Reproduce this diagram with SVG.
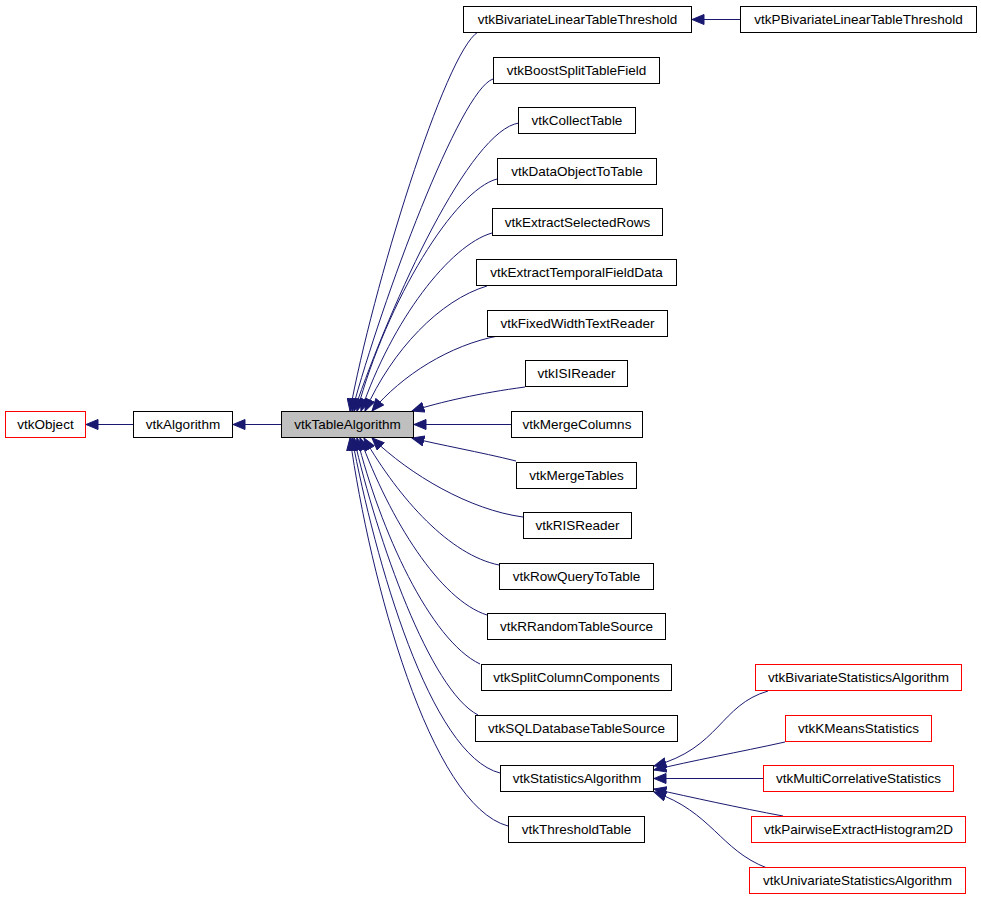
<svg xmlns="http://www.w3.org/2000/svg" width="981" height="899" viewBox="0 0 981 899">
<style>
.n rect{fill:#ffffff;stroke:#000000;stroke-width:1}
.n rect.red{stroke:#ff0000}
.n rect.grey{fill:#bfbfbf}
.n text{font-family:"Liberation Sans",Arial,sans-serif;font-size:13.5px;fill:#000000;text-anchor:middle}
#edges path{fill:none;stroke:#191970;stroke-width:1;marker-end:url(#ah)}
</style>
<defs>
<marker id="ah" markerUnits="userSpaceOnUse" markerWidth="13" markerHeight="11" viewBox="0 0 13 11" refX="12.5" refY="5.5" orient="auto">
<path d="M0.5,0.5 L12.5,5.5 L0.5,10.5 Z" fill="#191970" stroke="#191970" stroke-width="1"/>
</marker>
</defs>
<rect width="981" height="899" fill="#ffffff"/>
<g id="edges">
<path d="M133,424.5 L86,424.5"/>
<path d="M281,424.5 L233,424.5"/>
<path d="M740,19.5 L692,19.5"/>
<path d="M478,32 C445,52 372,290 350,411"/>
<path d="M493,79 C460,90 382,300 352,411"/>
<path d="M519,123 C470,130 392,300 354,411"/>
<path d="M497,179 C455,190 387,300 357,411"/>
<path d="M492,233 C450,245 392,320 361,411"/>
<path d="M487,286 C440,300 392,350 365,411"/>
<path d="M498,336 C450,345 402,375 372,411"/>
<path d="M525,387 C480,393 440,402 412,411"/>
<path d="M511,424.5 L414,424.5"/>
<path d="M516,461 C480,452 440,445 412,438"/>
<path d="M523,517 C470,510 410,475 372,438"/>
<path d="M499,565 C450,555 400,500 364,438"/>
<path d="M487,615 C440,600 390,520 360,438"/>
<path d="M480,664 C430,640 380,530 357,438"/>
<path d="M478,715 C430,690 377,540 354,438"/>
<path d="M500,773 C430,755 375,560 352,438"/>
<path d="M508,826 C430,805 370,580 350,438"/>
<path d="M768,691 C720,705 720,748 654,766"/>
<path d="M785,742 C740,752 690,761 654,770"/>
<path d="M763,778.5 L654,778.5"/>
<path d="M783,816 C740,808 690,797 654,789"/>
<path d="M767,868 C720,850 712,812 654,792"/>
</g>
<g id="vtkObject" class="n"><rect class="red" x="5.5" y="411.5" width="80" height="26"/><text x="45.5" y="429">vtkObject</text></g>
<g id="vtkAlgorithm" class="n"><rect x="133.5" y="411.5" width="99" height="26"/><text x="183" y="429">vtkAlgorithm</text></g>
<g id="vtkTableAlgorithm" class="n"><rect class="grey" x="281.5" y="411.5" width="132" height="26"/><text x="347.5" y="429">vtkTableAlgorithm</text></g>
<g id="vtkBivariateLinearTableThreshold" class="n"><rect x="463.5" y="6.5" width="228" height="26"/><text x="577.5" y="24">vtkBivariateLinearTableThreshold</text></g>
<g id="vtkPBivariateLinearTableThreshold" class="n"><rect x="740.5" y="6.5" width="236" height="26"/><text x="858.5" y="24">vtkPBivariateLinearTableThreshold</text></g>
<g id="vtkBoostSplitTableField" class="n"><rect x="493.5" y="57.5" width="166" height="26"/><text x="576.5" y="75">vtkBoostSplitTableField</text></g>
<g id="vtkCollectTable" class="n"><rect x="518.5" y="107.5" width="117" height="26"/><text x="577" y="125">vtkCollectTable</text></g>
<g id="vtkDataObjectToTable" class="n"><rect x="497.5" y="158.5" width="159" height="26"/><text x="577" y="176">vtkDataObjectToTable</text></g>
<g id="vtkExtractSelectedRows" class="n"><rect x="492.5" y="208.5" width="170" height="27"/><text x="577.5" y="226.5">vtkExtractSelectedRows</text></g>
<g id="vtkExtractTemporalFieldData" class="n"><rect x="476.5" y="259.5" width="200" height="26"/><text x="576.5" y="277">vtkExtractTemporalFieldData</text></g>
<g id="vtkFixedWidthTextReader" class="n"><rect x="487.5" y="310.5" width="180" height="26"/><text x="577.5" y="328">vtkFixedWidthTextReader</text></g>
<g id="vtkISIReader" class="n"><rect x="525.5" y="360.5" width="102" height="26"/><text x="576.5" y="378">vtkISIReader</text></g>
<g id="vtkMergeColumns" class="n"><rect x="511.5" y="411.5" width="131" height="26"/><text x="577" y="429">vtkMergeColumns</text></g>
<g id="vtkMergeTables" class="n"><rect x="516.5" y="462.5" width="120" height="26"/><text x="576.5" y="480">vtkMergeTables</text></g>
<g id="vtkRISReader" class="n"><rect x="523.5" y="512.5" width="108" height="26"/><text x="577.5" y="530">vtkRISReader</text></g>
<g id="vtkRowQueryToTable" class="n"><rect x="499.5" y="563.5" width="154" height="26"/><text x="576.5" y="581">vtkRowQueryToTable</text></g>
<g id="vtkRRandomTableSource" class="n"><rect x="487.5" y="613.5" width="178" height="26"/><text x="576.5" y="631">vtkRRandomTableSource</text></g>
<g id="vtkSplitColumnComponents" class="n"><rect x="481.5" y="664.5" width="190" height="26"/><text x="576.5" y="682">vtkSplitColumnComponents</text></g>
<g id="vtkSQLDatabaseTableSource" class="n"><rect x="475.5" y="715.5" width="202" height="26"/><text x="576.5" y="733">vtkSQLDatabaseTableSource</text></g>
<g id="vtkStatisticsAlgorithm" class="n"><rect x="500.5" y="765.5" width="153" height="26"/><text x="577" y="783">vtkStatisticsAlgorithm</text></g>
<g id="vtkThresholdTable" class="n"><rect x="508.5" y="816.5" width="136" height="26"/><text x="576.5" y="834">vtkThresholdTable</text></g>
<g id="vtkBivariateStatisticsAlgorithm" class="n"><rect class="red" x="755.5" y="664.5" width="206" height="26"/><text x="858.5" y="682">vtkBivariateStatisticsAlgorithm</text></g>
<g id="vtkKMeansStatistics" class="n"><rect class="red" x="785.5" y="715.5" width="146" height="26"/><text x="858.5" y="733">vtkKMeansStatistics</text></g>
<g id="vtkMultiCorrelativeStatistics" class="n"><rect class="red" x="763.5" y="765.5" width="190" height="26"/><text x="858.5" y="783">vtkMultiCorrelativeStatistics</text></g>
<g id="vtkPairwiseExtractHistogram2D" class="n"><rect class="red" x="751.5" y="816.5" width="214" height="26"/><text x="858.5" y="834">vtkPairwiseExtractHistogram2D</text></g>
<g id="vtkUnivariateStatisticsAlgorithm" class="n"><rect class="red" x="749.5" y="867.5" width="216" height="26"/><text x="857.5" y="885">vtkUnivariateStatisticsAlgorithm</text></g>
</svg>
